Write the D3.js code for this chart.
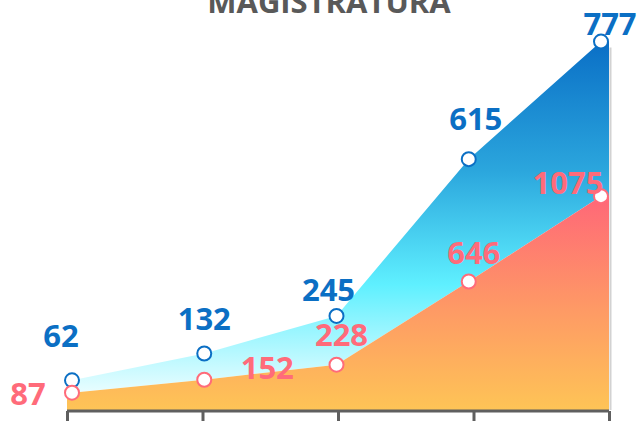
<!DOCTYPE html>
<html>
<head>
<meta charset="utf-8">
<script src="https://cdn.jsdelivr.net/npm/d3@7"></script>
<style>
  html, body { margin: 0; padding: 0; background: #fff; }
  svg { display: block; }
  text { font-family: "Open Sans", "Noto Sans", sans-serif; font-weight: 700; }
</style>
</head>
<body>
<svg id="chart" width="637" height="421"></svg>
<script>
// ---- data ----
const title = "MAGISTRATURA";
const categories = ["1", "2", "3", "4", "5"];
const seriesBottom = [87, 152, 228, 646, 1075];   // red / orange series (bottom of stack)
const seriesTop = [62, 132, 245, 615, 777];       // blue series (stacked on top)

// ---- layout ----
const svg = d3.select("#chart");

const xAxisScale = d3.scalePoint().domain(categories).range([67, 609]);
const x = d3.scalePoint().domain(categories).range([72, 601]);
const y = d3.scaleLinear().domain([0, 1900]).range([410, 32]);

const rows = categories.map((c, i) => ({ cat: c, bottom: seriesBottom[i], top: seriesTop[i] }));
const stacked = d3.stack().keys(["bottom", "top"])(rows);

// gradients
const defs = svg.append("defs");
const gBlue = defs.append("linearGradient").attr("id", "gBlue")
  .attr("gradientUnits", "userSpaceOnUse").attr("x1", 0).attr("x2", 0)
  .attr("y1", y(seriesBottom[4] + seriesTop[4])).attr("y2", y(0));
gBlue.append("stop").attr("offset", "0%").attr("stop-color", "#0a6fc6");
gBlue.append("stop").attr("offset", "35%").attr("stop-color", "#2ba6dd");
gBlue.append("stop").attr("offset", "66%").attr("stop-color", "#5ff0ff");
gBlue.append("stop").attr("offset", "100%").attr("stop-color", "#ffffff");

const gRed = defs.append("linearGradient").attr("id", "gRed")
  .attr("gradientUnits", "userSpaceOnUse").attr("x1", 0).attr("x2", 0)
  .attr("y1", y(seriesBottom[4])).attr("y2", y(0));
gRed.append("stop").attr("offset", "0%").attr("stop-color", "#ff6778");
gRed.append("stop").attr("offset", "50%").attr("stop-color", "#fe9766");
gRed.append("stop").attr("offset", "100%").attr("stop-color", "#fec456");

// area with horizontal extensions to the axis ends
function extended(layer) {
  const pts = layer.map((d, i) => ({ x: x(categories[i]), y0: d[0], y1: d[1] }));
  const first = pts[0], last = pts[pts.length - 1];
  return [{ x: xAxisScale.range()[0], y0: first.y0, y1: first.y1 }, ...pts,
          { x: xAxisScale.range()[1], y0: last.y0, y1: last.y1 }];
}
const area = d3.area().x(d => d.x).y0(d => y(d.y0)).y1(d => y(d.y1));

// shadow line at right edge
svg.append("line")
  .attr("x1", xAxisScale.range()[1] + 1.5).attr("x2", xAxisScale.range()[1] + 1.5)
  .attr("y1", y(seriesBottom[4] + seriesTop[4]) + 6).attr("y2", y(0))
  .attr("stroke", "#d2d2d2").attr("stroke-width", 2);

svg.append("path").datum(extended(stacked[1])).attr("d", area).attr("fill", "url(#gBlue)");
svg.append("path").datum(extended(stacked[0])).attr("d", area).attr("fill", "url(#gRed)");

// axis
const axis = d3.axisBottom(xAxisScale).tickSize(14).tickFormat("");
const axG = svg.append("g").attr("transform", `translate(0,${y(0) + 1})`).call(axis);
axG.selectAll("path, line").attr("stroke", "#5f5f5f").attr("stroke-width", 3);
axG.select(".domain").attr("d", `M${xAxisScale.range()[0]},0H${xAxisScale.range()[1]}`);

// markers
const blueColor = "#0b6fc4", redColor = "#ff6b7a";
svg.append("g").selectAll("circle").data(stacked[1]).join("circle")
  .attr("cx", (d, i) => x(categories[i])).attr("cy", d => y(d[1])).attr("r", 7)
  .attr("fill", "#fff").attr("stroke", blueColor).attr("stroke-width", 2);
svg.append("g").selectAll("circle").data(stacked[0]).join("circle")
  .attr("cx", (d, i) => x(categories[i])).attr("cy", d => y(d[1])).attr("r", 7)
  .attr("fill", "#fff").attr("stroke", redColor).attr("stroke-width", 2);

// label placement (offsets from markers)
const blueOff = [[-11, -33], [0, -23], [-8, -15], [7, -29], [9, -7]];
const redOff = [[-44, 12], [63, -1], [5, -19], [5, -17], [-33, -2]];

svg.append("g").selectAll("text").data(stacked[1]).join("text")
  .attr("x", (d, i) => x(categories[i]) + blueOff[i][0])
  .attr("y", (d, i) => y(d[1]) + blueOff[i][1])
  .attr("text-anchor", "middle").attr("font-size", 31).attr("fill", blueColor)
  .text((d, i) => seriesTop[i]);
svg.append("g").selectAll("text").data(stacked[0]).join("text")
  .attr("x", (d, i) => x(categories[i]) + redOff[i][0])
  .attr("y", (d, i) => y(d[1]) + redOff[i][1])
  .attr("text-anchor", "middle").attr("font-size", 31).attr("fill", redColor)
  .text((d, i) => seriesBottom[i]);

// title
svg.append("text").attr("x", 329).attr("y", 13).attr("text-anchor", "middle")
  .attr("font-size", 31).attr("fill", "#595959").text(title);
</script>
</body>
</html>
